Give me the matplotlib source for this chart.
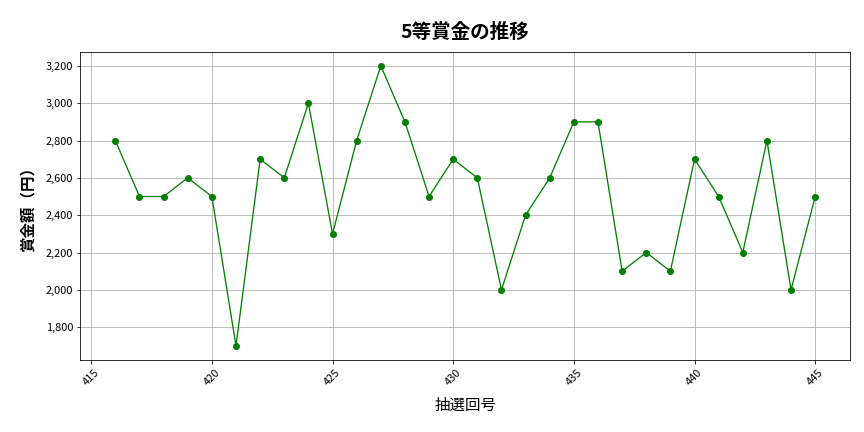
import matplotlib
matplotlib.use("Agg")
import matplotlib.pyplot as plt
from matplotlib.ticker import FuncFormatter

plt.rcParams['font.family'] = ['Noto Sans CJK JP', 'DejaVu Sans']

# 抽選回と5等賞金
draws = list(range(416, 446))
prizes = [2800, 2500, 2500, 2600, 2500, 1700, 2700, 2600, 3000, 2300,
          2800, 3200, 2900, 2500, 2700, 2600, 2000, 2400, 2600, 2900,
          2900, 2100, 2200, 2100, 2700, 2500, 2200, 2800, 2000, 2500]

fig, ax = plt.subplots(figsize=(12, 6), dpi=72)
ax.plot(draws, prizes, marker='o', color='green', linewidth=1.3, markersize=6)
ax.set_title('5等賞金の推移', fontsize=19.5, fontweight='bold', pad=14)
ax.set_xlabel('抽選回号', fontsize=15.5, labelpad=10)
ax.set_ylabel('賞金額（円）', fontsize=15.5, fontweight='bold', labelpad=10)
ax.yaxis.set_major_formatter(FuncFormatter(lambda v, p: f'{int(v):,}'))
ax.tick_params(axis='x', rotation=45, labelsize=11)
ax.tick_params(axis='y', labelsize=11)
ax.grid(True, color='#b0b0b0', linewidth=0.8)
fig.subplots_adjust(left=0.093, right=0.984, top=0.88, bottom=0.167)
fig.savefig('out.png')
